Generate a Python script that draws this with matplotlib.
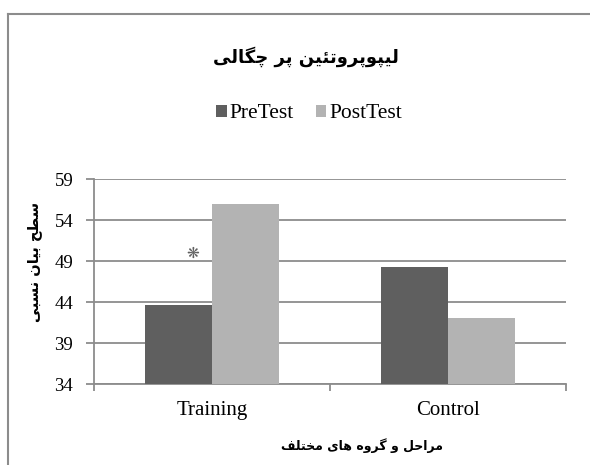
import numpy as np
import matplotlib
matplotlib.use('Agg')
import matplotlib.pyplot as plt
from matplotlib.lines import Line2D

groups = ['Training', 'Control']
series = ['PreTest', 'PostTest']
pre_test = [43.6, 48.3]
post_test = [55.9, 42.0]
y_ticks = [34, 39, 44, 49, 54, 59]
title_fa = 'لیپوپروتئین پر چگالی'
xlabel_fa = 'مراحل و گروه های مختلف'
ylabel_fa = 'سطح بیان نسبی'
star_pos = (-0.08, 49.9)

# simple persian shaping (no reshaper lib available)
# letter: (isolated, final, initial, medial); initial/medial None = right-joining only
forms = {
	'ا': ('\uFE8D', '\uFE8E', None, None),
	'ب': ('\uFE8F', '\uFE90', '\uFE91', '\uFE92'),
	'پ': ('\uFB56', '\uFB57', '\uFB58', '\uFB59'),
	'ت': ('\uFE95', '\uFE96', '\uFE97', '\uFE98'),
	'ئ': ('\uFE89', '\uFE8A', '\uFE8B', '\uFE8C'),
	'چ': ('\uFB7A', '\uFB7B', '\uFB7C', '\uFB7D'),
	'ح': ('\uFEA1', '\uFEA2', '\uFEA3', '\uFEA4'),
	'خ': ('\uFEA5', '\uFEA6', '\uFEA7', '\uFEA8'),
	'ر': ('\uFEAD', '\uFEAE', None, None),
	'س': ('\uFEB1', '\uFEB2', '\uFEB3', '\uFEB4'),
	'ط': ('\uFEC1', '\uFEC2', '\uFEC3', '\uFEC4'),
	'ف': ('\uFED1', '\uFED2', '\uFED3', '\uFED4'),
	'گ': ('\uFB92', '\uFB93', '\uFB94', '\uFB95'),
	'ل': ('\uFEDD', '\uFEDE', '\uFEDF', '\uFEE0'),
	'م': ('\uFEE1', '\uFEE2', '\uFEE3', '\uFEE4'),
	'ن': ('\uFEE5', '\uFEE6', '\uFEE7', '\uFEE8'),
	'ه': ('\uFEE9', '\uFEEA', '\uFEEB', '\uFEEC'),
	'و': ('\uFEED', '\uFEEE', None, None),
	'ی': ('\uFBFC', '\uFBFD', '\uFBFE', '\uFBFF'),
}

def shape(txt):
	out = []
	for i, c in enumerate(txt):
		if c not in forms:
			out.append(c)
			continue
		prev = txt[i - 1] if i > 0 else ' '
		nxt = txt[i + 1] if i < len(txt) - 1 else ' '
		join_prev = prev in forms and forms[prev][2] is not None
		join_next = forms[c][2] is not None and nxt in forms
		f = forms[c]
		if join_prev and join_next:
			out.append(f[3])
		elif join_prev:
			out.append(f[1])
		elif join_next:
			out.append(f[2])
		else:
			out.append(f[0])
	return ''.join(out)[::-1]

serif = ['Liberation Serif', 'DejaVu Serif']
plt.rcParams['font.family'] = serif

fig = plt.figure(figsize=(5.9, 4.65), dpi=100)
ax = fig.add_axes([94 / 590, 1 - 384 / 465, 472 / 590, 205 / 465])

x = np.arange(len(groups))
w = 0.284
ax.bar(x - w / 2, pre_test, w, color='#5f5f5f', label=series[0], zorder=3)
ax.bar(x + w / 2, post_test, w, color='#b3b3b3', label=series[1], zorder=3)

ax.set_xlim(-0.5, 1.5)
ax.set_ylim(34, 59)
ax.set_yticks(y_ticks)
ax.yaxis.grid(True, color='#8c8c8c', linewidth=1.3, zorder=0)
ax.set_xticks(x)
ax.set_xticklabels(groups, fontsize=15)
ax.set_xticks([-0.5, 0.5, 1.5], minor=True)
ax.tick_params(axis='x', which='major', length=0, pad=12)
ax.tick_params(axis='x', which='minor', length=5, width=1.3, color='#8c8c8c')
ax.tick_params(axis='y', length=6, width=1.3, color='#8c8c8c', labelsize=13.5, pad=9)
for s in ['top', 'right']:
	ax.spines[s].set_visible(False)
for s in ['left', 'bottom']:
	ax.spines[s].set_color('#8c8c8c')
	ax.spines[s].set_linewidth(1.3)

ax.text(star_pos[0], star_pos[1], '❋', fontsize=11, color='#606060',
	ha='center', va='center', family=['DejaVu Sans'])

leg = fig.legend(loc='center', bbox_to_anchor=(309 / 590, 1 - 114 / 465), ncol=2,
	frameon=False, fontsize=15.5, handlelength=0.5, handleheight=0.5,
	handletextpad=0.15, columnspacing=1.0)

fig.text(306 / 590, 1 - 57 / 465, shape(title_fa), ha='center', va='center',
	fontsize=13, fontweight='bold', family=['DejaVu Sans'])
fig.text(362 / 590, 1 - 446 / 465, shape(xlabel_fa), ha='center', va='center',
	fontsize=9, fontweight='bold', family=['DejaVu Sans'])
fig.text(34 / 590, 1 - 262 / 465, shape(ylabel_fa), ha='center', va='center',
	rotation=90, fontsize=10.5, fontweight='bold', family=['DejaVu Sans'])

# outer frame (top and left edges only)
fig.add_artist(Line2D([8 / 590, 1], [1 - 14 / 465, 1 - 14 / 465], color='#8c8c8c', linewidth=1.5))
fig.add_artist(Line2D([8 / 590, 8 / 590], [0, 1 - 14 / 465], color='#8c8c8c', linewidth=1.5))

fig.savefig('out.png', dpi=100)
